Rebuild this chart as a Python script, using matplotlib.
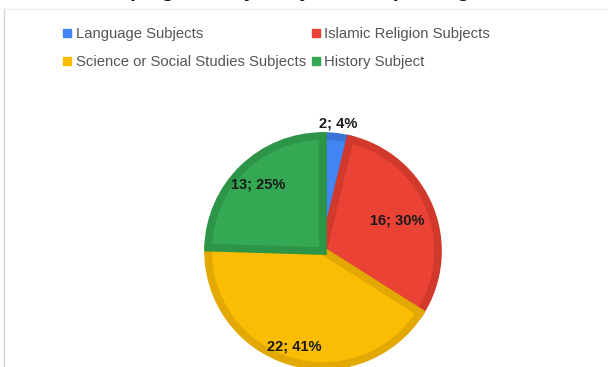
import matplotlib.pyplot as plt
from matplotlib.lines import Line2D
import numpy as np

plt.rcParams['font.family'] = ['Liberation Sans', 'DejaVu Sans']

subjects = ["Language Subjects", "Islamic Religion Subjects",
            "Science or Social Studies Subjects", "History Subject"]
counts = [2, 16, 22, 13]
percent_labels = ["4%", "30%", "41%", "25%"]
title = "Grouping Data by Subject Group Categories"

fills = ["#4285f4", "#ea4335", "#fbbc04", "#34a853"]
edges = ["#3a74d6", "#d2392d", "#e2a803", "#2d9548"]
label_dist = [1.12, 0.70, 0.87, 0.81]

W, H = 608, 367
cx, cy, R = 323, 116, 115

fig = plt.figure(figsize=(W / 100, H / 100), dpi=100)
ax = fig.add_axes([0, 0, 1, 1])

wedges, _ = ax.pie(counts, colors=fills, startangle=90, counterclock=False,
                   center=(cx, cy), radius=R, frame=True)
# darker band along the inside of each slice
for w, ec in zip(wedges, edges):
    w.set_edgecolor(ec)
    w.set_linewidth(5.5)
    w.set_clip_path(w)

for w, n, p, d in zip(wedges, counts, percent_labels, label_dist):
    mid = np.deg2rad((w.theta1 + w.theta2) / 2)
    ax.text(cx + d * R * np.cos(mid), cy + d * R * np.sin(mid), f"{n}; {p}",
            ha='center', va='center', fontsize=10.5, fontweight='bold',
            color='#1a1a1a')

ax.set_xlim(0, W)
ax.set_ylim(0, H)
ax.set_aspect('equal')
ax.axis('off')

# chart frame edges
ax.plot([4, 4], [0, H - 9], color='#d4d4d4', lw=1)
ax.plot([4, W], [H - 9, H - 9], color='#f2f2f2', lw=1)

# title sits mostly above the canvas
ax.text(300, H + 3, title, ha='center', va='baseline', fontsize=15,
        fontweight='bold', color='#111111')

handles = [Line2D([], [], marker='s', linestyle='none', markersize=5.2,
                  color=c) for c in fills]
order = [0, 2, 1, 3]
leg = ax.legend([handles[i] for i in order], [subjects[i] for i in order],
                ncol=2, loc='upper left', bbox_to_anchor=(63 / W, 1 - 27 / H),
                bbox_transform=fig.transFigure, frameon=False, fontsize=10.7,
                handlelength=0.55, handletextpad=0.3, columnspacing=0.4,
                labelspacing=0.95, borderpad=0, borderaxespad=0)
for t in leg.get_texts():
    t.set_color('#555555')

fig.savefig("out.png", dpi=100)
